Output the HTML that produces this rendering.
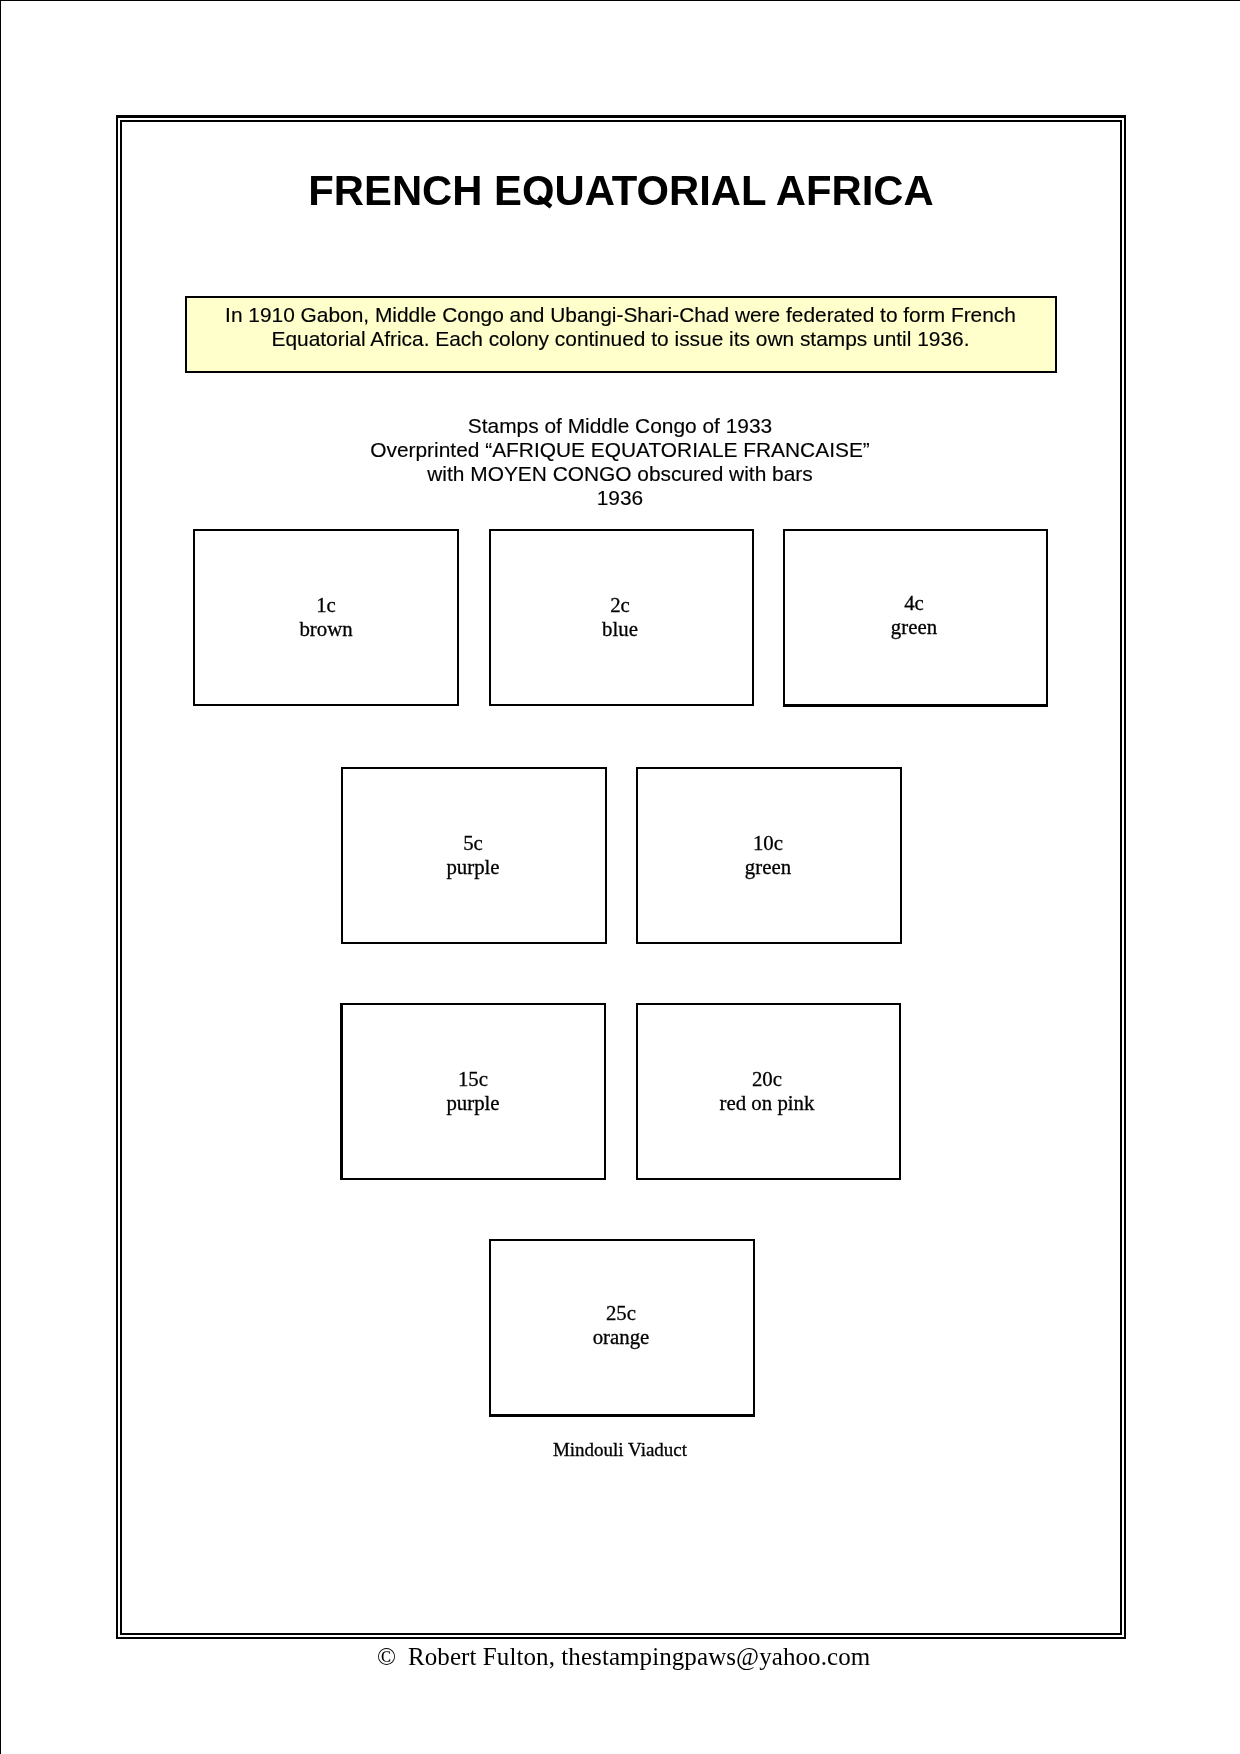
<!DOCTYPE html>
<html>
<head>
<meta charset="utf-8">
<style>
html,body{margin:0;padding:0;background:#fff;}
body{width:1240px;height:1754px;position:relative;overflow:hidden;}
.abs{position:absolute;}
.pb-top{left:0;top:0;width:1240px;height:1px;background:#000;}
.pb-left{left:0;top:0;width:1px;height:1754px;background:#000;}
.frame-o{left:116px;top:115px;width:1006px;height:1519px;border-style:solid;border-color:#000;border-width:3px 2px 2px 2px;}
.frame-i{left:120px;top:120px;width:998px;height:1511px;border:2px solid #000;}
.sans{font-family:"Liberation Sans",sans-serif;color:#000;will-change:transform;}
.serif{font-family:"Liberation Serif",serif;color:#000;-webkit-text-stroke:0.3px #000;will-change:transform;}
.title{left:0;width:1240px;text-align:center;font-weight:bold;font-size:41.8px;line-height:48px;white-space:nowrap;}
.note{left:185px;top:296px;width:868px;height:73px;border:2px solid #000;background:#ffffcc;}
.c{text-align:center;white-space:nowrap;}
.txt{font-size:20.9px;line-height:24px;-webkit-text-stroke:0.15px #000;}
.box{border:2px solid #000;box-sizing:border-box;}
.stxt{font-size:20.83px;line-height:24px;}
</style>
</head>
<body>
<div class="abs pb-top"></div>
<div class="abs pb-left"></div>
<div class="abs frame-o"></div>
<div class="abs frame-i"></div>

<div class="abs sans title" style="top:167px;left:1px;">FRENCH EOUATORIAL AFRICA</div>
<svg class="abs" style="left:0;top:0;" width="1240" height="260"><polygon points="539.9,195.2 537.1,198.8 549.6,208.6 552.4,205" fill="#000"/></svg>

<div class="abs note"></div>
<div class="abs sans c txt" style="left:0;width:1241px;top:303px;">In 1910 Gabon, Middle Congo and Ubangi-Shari-Chad were federated to form French<br>Equatorial Africa. Each colony continued to issue its own stamps until 1936.</div>

<div class="abs sans c txt" style="left:0;width:1240px;top:414px;">Stamps of Middle Congo of 1933<br>Overprinted &#8220;AFRIQUE EQUATORIALE FRANCAISE&#8221;<br>with MOYEN CONGO obscured with bars<br>1936</div>

<!-- row 1 -->
<div class="abs box" style="left:193px;top:529px;width:266px;height:177px;"></div>
<div class="abs box" style="left:489px;top:529px;width:265px;height:177px;"></div>
<div class="abs box" style="left:783px;top:529px;width:265px;height:178px;border-bottom-width:3px;"></div>
<div class="abs serif c stxt" style="left:226px;width:200px;top:593px;">1c<br>brown</div>
<div class="abs serif c stxt" style="left:520px;width:200px;top:593px;">2c<br>blue</div>
<div class="abs serif c stxt" style="left:814px;width:200px;top:591px;">4c<br>green</div>

<!-- row 2 -->
<div class="abs box" style="left:341px;top:767px;width:266px;height:177px;"></div>
<div class="abs box" style="left:636px;top:767px;width:266px;height:177px;"></div>
<div class="abs serif c stxt" style="left:373px;width:200px;top:831px;">5c<br>purple</div>
<div class="abs serif c stxt" style="left:668px;width:200px;top:831px;">10c<br>green</div>

<!-- row 3 -->
<div class="abs box" style="left:340px;top:1003px;width:266px;height:177px;border-left-width:3px;"></div>
<div class="abs box" style="left:636px;top:1003px;width:265px;height:177px;"></div>
<div class="abs serif c stxt" style="left:373px;width:200px;top:1067px;">15c<br>purple</div>
<div class="abs serif c stxt" style="left:667px;width:200px;top:1067px;">20c<br>red on pink</div>

<!-- row 4 -->
<div class="abs box" style="left:489px;top:1239px;width:266px;height:178px;border-bottom-width:3px;"></div>
<div class="abs serif c stxt" style="left:521px;width:200px;top:1301px;">25c<br>orange</div>

<div class="abs serif c" style="left:520px;width:200px;top:1438px;font-size:19px;line-height:24px;">Mindouli Viaduct</div>

<div class="abs serif" style="left:377px;top:1643px;font-size:25px;line-height:28px;white-space:pre;-webkit-text-stroke:0;">&#169;</div>
<div class="abs serif" style="left:408px;top:1643px;font-size:25px;line-height:28px;white-space:pre;letter-spacing:0.08px;-webkit-text-stroke:0;">Robert Fulton, thestampingpaws@yahoo.com</div>
</body>
</html>
